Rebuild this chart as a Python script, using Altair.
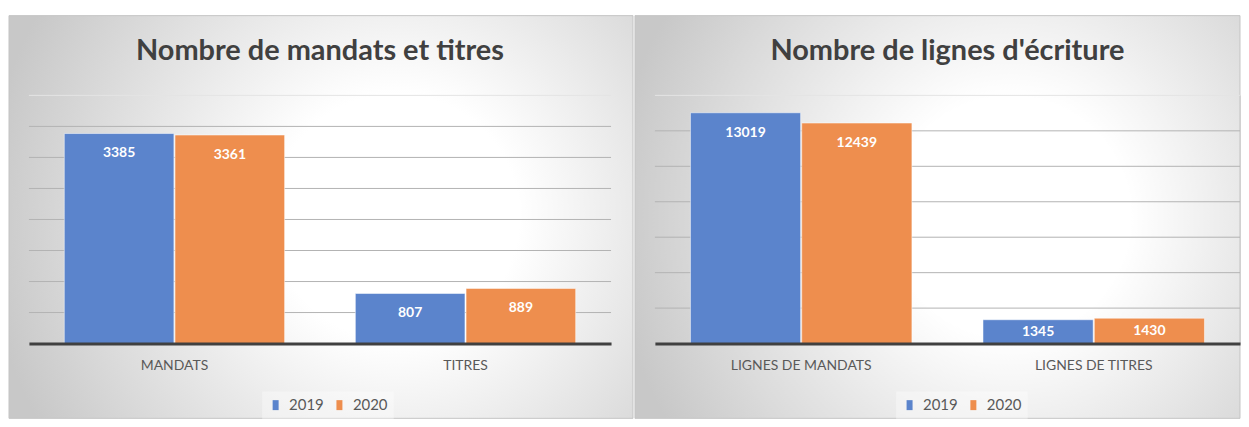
import altair as alt
import pandas as pd

years = ["2019", "2020"]
colors = ["#5B84CC", "#EE8E4E"]

title_left = "Nombre de mandats et titres"
cats_left = ["MANDATS", "TITRES"]
left_2019 = [3385, 807]
left_2020 = [3361, 889]
grid_left = [500, 1000, 1500, 2000, 2500, 3000, 3500, 4000]

title_right = "Nombre de lignes d'écriture"
cats_right = ["LIGNES DE MANDATS", "LIGNES DE TITRES"]
right_2019 = [13019, 1345]
right_2020 = [12439, 1430]
grid_right = [2000, 4000, 6000, 8000, 10000, 12000, 14000]

FONT = "Lato"
H = 249

GRADIENT = {
    "gradient": "radial",
    "x1": 0.62, "y1": 0.5, "r1": 0,
    "x2": 0.62, "y2": 0.5, "r2": 0.66,
    "stops": [
        {"offset": 0.0, "color": "#ffffff"},
        {"offset": 0.3, "color": "#ffffff"},
        {"offset": 1.0, "color": "#c8c8c8"},
    ],
}


def panel(cats, v19, v20, title, grid, W, bg_x2, legend_x):
    ymax = grid[-1]
    df = pd.DataFrame({
        "cat": [c for c in cats for _ in years],
        "year": years * len(cats),
        "value": [v for pair in zip(v19, v20) for v in pair],
    })
    upp = ymax / H
    df["labelpos"] = [max(v - 20 * upp, v / 2) for v in df["value"]]
    grid_df = pd.DataFrame({"v": grid})
    one = pd.DataFrame({"t": [title]})

    yscale = alt.Scale(domain=[0, ymax], nice=False, zero=True)
    xscale = alt.Scale(domain=cats, paddingInner=0.243, paddingOuter=0.1215)
    x_enc = alt.X(
        "cat:N", scale=xscale, sort=cats,
        axis=alt.Axis(title=None, ticks=False, domainColor="#404040", domainWidth=3,
                      labelFont=FONT, labelFontSize=14, labelColor="#595959",
                      labelPadding=15, labelAngle=0, grid=False, zindex=1),
    )
    xoff = alt.XOffset("year:N", sort=years, scale=alt.Scale(paddingInner=0.01))

    bg = alt.Chart(one).mark_rect(fill=GRADIENT, stroke="#c4c4c4", strokeWidth=1).encode(
        x=alt.value(-20), x2=alt.value(bg_x2), y=alt.value(-80), y2=alt.value(H + 75)
    )
    ttl = alt.Chart(one).mark_text(
        font=FONT, fontSize=29, fontWeight="bold", color="#404040", baseline="middle", align="center"
    ).encode(text="t:N", x=alt.value(W / 2), y=alt.value(-44))

    rules = alt.Chart(grid_df).mark_rule(strokeWidth=1).encode(
        y=alt.Y("v:Q", scale=yscale, axis=None),
        stroke=alt.condition(f"datum.v == {ymax}", alt.value("#e4e4e4"), alt.value("#b3b3b3")),
    )
    bars = alt.Chart(df).mark_bar(stroke="#ffffff", strokeWidth=1, strokeOpacity=0.5).encode(
        x=x_enc, xOffset=xoff,
        y=alt.Y("value:Q", scale=yscale, axis=None),
        color=alt.Color(
            "year:N", scale=alt.Scale(domain=years, range=colors),
            legend=alt.Legend(
                title=None, orient="none", legendX=legend_x, legendY=297, direction="horizontal",
                symbolType="M-0.6,-1H0.6V1H-0.6Z", symbolSize=100, symbolStrokeWidth=0,
                labelFont=FONT, labelFontSize=15, labelColor="#595959", labelOffset=6,
                columnPadding=8, padding=6, fillColor="rgba(255,255,255,0.35)",
            ),
        ),
    )
    labels = alt.Chart(df).mark_text(
        font=FONT, fontSize=14, fontWeight="bold", color="white", baseline="middle"
    ).encode(
        x=x_enc, xOffset=xoff,
        y=alt.Y("labelpos:Q", scale=yscale, axis=None),
        text="value:Q",
    )
    return alt.layer(bg, ttl, rules, bars, labels).properties(width=W, height=H)


left = panel(cats_left, left_2019, left_2020, title_left, grid_left, 584, 606, 234)
right = panel(cats_right, right_2019, right_2020, title_right, grid_right, 587, 587, 242)

chart = (
    alt.hconcat(left, right, spacing=0)
    .resolve_scale(x="independent", y="independent", color="shared", xOffset="independent")
    .resolve_legend(color="independent")
    .properties(padding={"top": 6, "left": 0, "right": 0, "bottom": 0})
    .configure_view(strokeWidth=0)
    .configure(background="white")
)

chart.save("out.html", embed_options={"renderer": "svg", "actions": False})
